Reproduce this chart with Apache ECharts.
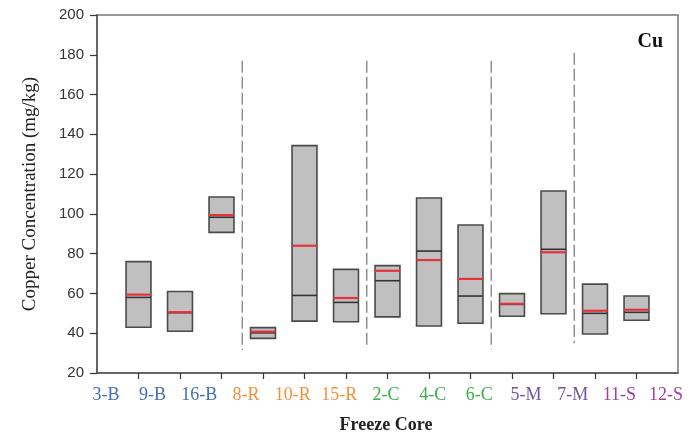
<!DOCTYPE html>
<html>
<head>
<meta charset="utf-8">
<script src="https://cdn.jsdelivr.net/npm/echarts@6/dist/echarts.min.js"></script>
<style>
  html, body { margin: 0; padding: 0; background: #fff; }
  #chart { width: 690px; height: 439px; }
</style>
</head>
<body>
<div id="chart"></div>
<script>
// Freeze cores, in plotting order, with their site group
const cores  = ['3-B', '9-B', '16-B', '8-R', '10-R', '15-R', '2-C', '4-C', '6-C', '5-M', '7-M', '11-S', '12-S'];
const groups = ['B', 'B', 'B', 'R', 'R', 'R', 'C', 'C', 'C', 'M', 'M', 'S', 'S'];

// Copper (mg/kg) per core: box bottom, box top, median, mean
const boxLow  = [43, 41, 90.7, 37.4, 46.1, 45.8, 48.2, 43.6, 45, 48.5, 49.8, 39.6, 46.5];
const boxHigh = [76, 61, 108.5, 42.8, 134.3, 72.1, 74, 108, 94.4, 59.9, 111.5, 64.7, 58.7];
const median  = [58, 50.3, 98.3, 40.2, 59, 55.5, 66.4, 81.3, 58.7, 54.5, 82.2, 50, 50.5];
const mean    = [59.4, 50.6, 99.4, 40.8, 84, 57.7, 71.4, 76.8, 67.3, 54.8, 80.7, 51.3, 51.8];

// Group separators: x position between groups, top and bottom value of the dashed line
const sepX      = [3.5, 6.5, 9.5, 11.5];
const sepTop    = [177, 177, 177, 181];
const sepBottom = [31.6, 32.5, 32, 35];

// Value axis ticks
const yMin = 20, yMax = 200, yStep = 20;

const groupColor = { B: '#3f70b8', R: '#f2913a', C: '#3eae4b', M: '#6c54a4', S: '#a2409f' };

const boxData = cores.map((c, i) => [i + 1, boxLow[i], boxHigh[i], median[i], mean[i]]);

const sepSeries = sepX.map((x, i) => ({
  type: 'line',
  xAxisIndex: 0,
  yAxisIndex: 0,
  data: [[x, sepTop[i]], [x, sepBottom[i]]],
  symbol: 'none',
  silent: true,
  lineStyle: { color: '#909090', width: 1.5, type: [12, 4] },
  z: 1
}));

const rich = {};
Object.keys(groupColor).forEach(k => { rich[k] = { color: groupColor[k], fontFamily: 'Liberation Serif', fontSize: 18 }; });

const chart = echarts.init(document.getElementById('chart'), null, { renderer: 'canvas' });
chart.setOption({
  animation: false,
  backgroundColor: '#fff',
  title: {
    text: 'Cu',
    right: 22,
    top: 27,
    textStyle: { fontFamily: 'Liberation Serif', fontWeight: 'bold', fontSize: 20, color: '#111' }
  },
  grid: [
    { left: 97, right: 12, top: 15, bottom: 66, show: true, borderColor: '#777', borderWidth: 1.5, backgroundColor: 'transparent' },
    { left: 82.6, right: 0.6, top: 15, bottom: 66, show: false }
  ],
  xAxis: [
    {
      type: 'value',
      gridIndex: 0,
      min: 0,
      max: 14,
      interval: 1,
      splitLine: { show: false },
      axisLine: { show: true, lineStyle: { color: '#555', width: 1.5 } },
      axisTick: { show: true, customValues: cores.map((c, i) => i + 1), length: 6, lineStyle: { color: '#333', width: 1.2 } },
      axisLabel: { show: false }
    },
    {
      type: 'category',
      gridIndex: 1,
      data: cores,
      boundaryGap: true,
      axisLine: { show: false },
      axisTick: { show: false },
      axisLabel: {
        margin: 14,
        interval: 0,
        formatter: (v, i) => '{' + groups[i] + '|' + v + '}',
        rich: rich
      },
      name: 'Freeze Core',
      nameLocation: 'middle',
      nameGap: 44,
      nameTextStyle: { fontFamily: 'Liberation Serif', fontWeight: 'bold', fontSize: 18, color: '#222' }
    }
  ],
  yAxis: [
    {
      type: 'value',
      gridIndex: 0,
      min: yMin,
      max: yMax,
      interval: yStep,
      splitLine: { show: false },
      axisLine: { show: true, lineStyle: { color: '#555', width: 1.5 } },
      axisTick: { show: true, inside: false, length: 7, lineStyle: { color: '#333', width: 1.2 } },
      axisLabel: { margin: 13, fontFamily: 'Liberation Sans', fontSize: 15, color: '#333' },
      name: 'Copper Concentration (mg/kg)',
      nameLocation: 'middle',
      nameGap: 57,
      nameRotate: 90,
      nameTextStyle: { fontFamily: 'Liberation Serif', fontSize: 19, color: '#222' }
    },
    { type: 'value', gridIndex: 1, show: false, min: 0, max: 1 }
  ],
  series: [
    {
      type: 'custom',
      xAxisIndex: 0,
      yAxisIndex: 0,
      data: boxData,
      encode: { x: 0, y: [1, 2, 3, 4] },
      z: 3,
      renderItem: function (params, api) {
        const x = api.value(0);
        const lo = api.coord([x, api.value(1)]);
        const hi = api.coord([x, api.value(2)]);
        const med = api.coord([x, api.value(3)]);
        const avg = api.coord([x, api.value(4)]);
        const w = api.size([0.6, 0])[0];
        const left = lo[0] - w / 2, right = lo[0] + w / 2;
        return {
          type: 'group',
          children: [
            { type: 'rect', shape: { x: left, y: hi[1], width: w, height: lo[1] - hi[1] },
              style: { fill: '#c0c0c0', stroke: '#4a4a4a', lineWidth: 1.6 } },
            { type: 'line', shape: { x1: left, y1: med[1], x2: right, y2: med[1] },
              style: { stroke: '#333', lineWidth: 1.6 } },
            { type: 'line', shape: { x1: left, y1: avg[1], x2: right, y2: avg[1] },
              style: { stroke: '#e8323a', lineWidth: 2.2 } }
          ]
        };
      }
    }
  ].concat(sepSeries)
});
</script>
</body>
</html>
